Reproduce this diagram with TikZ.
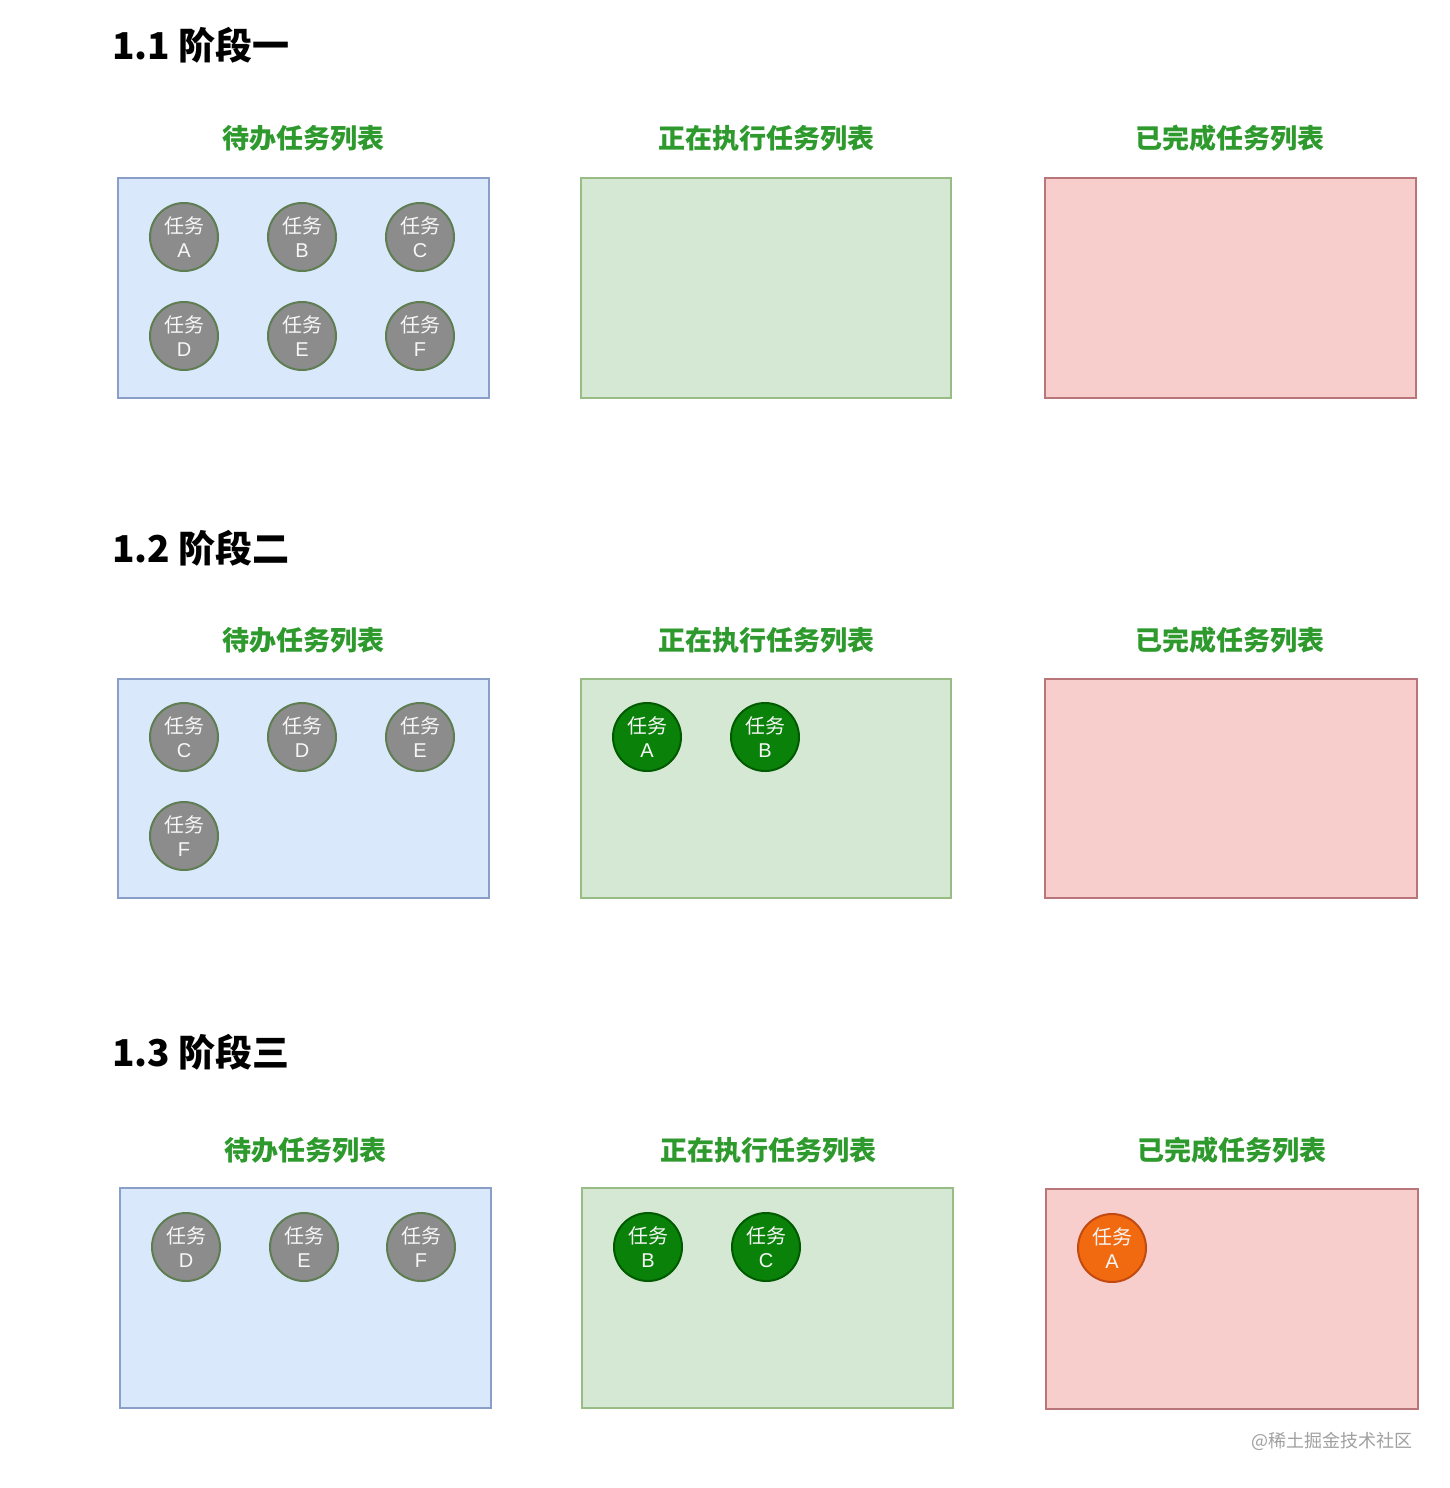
\documentclass[tikz,border=0pt]{standalone}
\usepackage{fontspec}
\newfontfamily\cjk{Noto Sans CJK SC}
\newfontfamily\latn{Liberation Sans}
\definecolor{bluefill}{HTML}{DAE8FC}
\definecolor{blueline}{HTML}{8A9FC8}
\definecolor{greenfill}{HTML}{D5E8D4}
\definecolor{greenline}{HTML}{97BD84}
\definecolor{redfill}{HTML}{F8CECC}
\definecolor{redline}{HTML}{B9767A}
\definecolor{titlegreen}{HTML}{2E9A2E}
\definecolor{grayfill}{HTML}{8C8C8C}
\definecolor{grayline}{HTML}{5E7E52}
\definecolor{runfill}{HTML}{0A820A}
\definecolor{runline}{HTML}{005A00}
\definecolor{donefill}{HTML}{F26A10}
\definecolor{doneline}{HTML}{C24A10}
\definecolor{wmgray}{HTML}{A0A0A0}
\newcommand{\tlabel}[1]{任务\\{\latn #1}}
\tikzset{
  heading/.style={anchor=west, font=\cjk\bfseries\fontsize{18.5}{20}\selectfont, text=black, inner sep=0pt},
  listtitle/.style={font=\cjk\bfseries\fontsize{13.5}{15}\selectfont, text=titlegreen, inner sep=0pt},
  todobox/.style={draw=blueline, fill=bluefill, line width=1.2pt},
  runbox/.style={draw=greenline, fill=greenfill, line width=1.2pt},
  donebox/.style={draw=redline, fill=redfill, line width=1.2pt},
  task/.style={circle, minimum size=34pt, inner sep=0pt, line width=1pt, align=center,
    font=\cjk\fontsize{10}{12}\selectfont, text=white!94!gray},
  todotask/.style={task, fill=grayfill, draw=grayline},
  runtask/.style={task, fill=runfill, draw=runline},
  donetask/.style={task, fill=donefill, draw=doneline},
}
\begin{document}
\begin{tikzpicture}[x=0.5pt, y=-0.5pt]
\useasboundingbox[fill=white] (0,0) rectangle (1450,1488);

% ---------- Stage 1 ----------
\node[heading] (h1) at (112,45) {1.1 阶段一};
\node[listtitle] (t1a) at (303,138) {待办任务列表};
\node[listtitle] (t1b) at (766,138) {正在执行任务列表};
\node[listtitle] (t1c) at (1230,138) {已完成任务列表};
\draw[todobox] (118,178) rectangle (489,398);
\draw[runbox] (581,178) rectangle (951,398);
\draw[donebox] (1045,178) rectangle (1416,398);
\node[todotask] (s1a) at (184,237) {\tlabel{A}};
\node[todotask] (s1b) at (302,237) {\tlabel{B}};
\node[todotask] (s1c) at (420,237) {\tlabel{C}};
\node[todotask] (s1d) at (184,336) {\tlabel{D}};
\node[todotask] (s1e) at (302,336) {\tlabel{E}};
\node[todotask] (s1f) at (420,336) {\tlabel{F}};

% ---------- Stage 2 ----------
\node[heading] (h2) at (112,548) {1.2 阶段二};
\node[listtitle] (t2a) at (303,640) {待办任务列表};
\node[listtitle] (t2b) at (766,640) {正在执行任务列表};
\node[listtitle] (t2c) at (1230,640) {已完成任务列表};
\draw[todobox] (118,679) rectangle (489,898);
\draw[runbox] (581,679) rectangle (951,898);
\draw[donebox] (1045,679) rectangle (1417,898);
\node[todotask] (s2c) at (184,737) {\tlabel{C}};
\node[todotask] (s2d) at (302,737) {\tlabel{D}};
\node[todotask] (s2e) at (420,737) {\tlabel{E}};
\node[todotask] (s2f) at (184,836) {\tlabel{F}};
\node[runtask] (s2a) at (647,737) {\tlabel{A}};
\node[runtask] (s2b) at (765,737) {\tlabel{B}};

% ---------- Stage 3 ----------
\node[heading] (h3) at (112,1052) {1.3 阶段三};
\node[listtitle] (t3a) at (305,1150) {待办任务列表};
\node[listtitle] (t3b) at (768,1150) {正在执行任务列表};
\node[listtitle] (t3c) at (1232,1150) {已完成任务列表};
\draw[todobox] (120,1188) rectangle (491,1408);
\draw[runbox] (582,1188) rectangle (953,1408);
\draw[donebox] (1046,1189) rectangle (1418,1409);
\node[todotask] (s3d) at (186,1247) {\tlabel{D}};
\node[todotask] (s3e) at (304,1247) {\tlabel{E}};
\node[todotask] (s3f) at (421,1247) {\tlabel{F}};
\node[runtask] (s3b) at (648,1247) {\tlabel{B}};
\node[runtask] (s3c) at (766,1247) {\tlabel{C}};
\node[donetask] (s3a) at (1112,1248) {\tlabel{A}};

\node[anchor=east, font=\cjk\fontsize{9}{10}\selectfont, text=wmgray, inner sep=0pt] (wm) at (1413,1441) {@稀土掘金技术社区};
\end{tikzpicture}
\end{document}
